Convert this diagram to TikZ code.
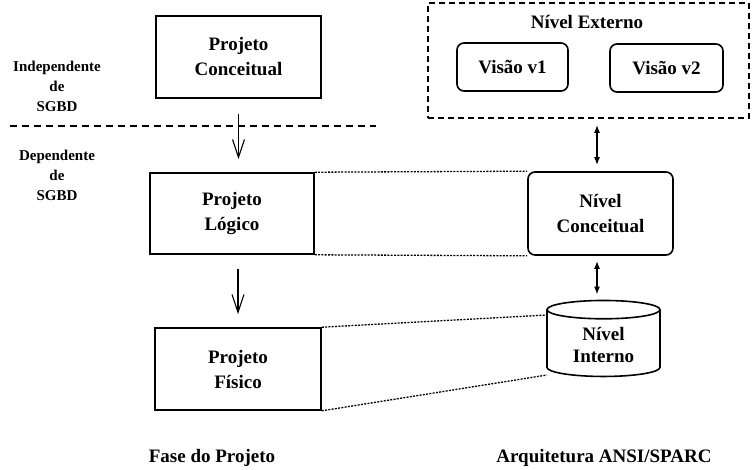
\documentclass[tikz,border=0pt]{standalone}
\usepackage{fontspec}
\setmainfont{Liberation Serif}
\usetikzlibrary{positioning,calc,shapes.geometric,arrows.meta}

\begin{document}
\begin{tikzpicture}[x=1pt,y=-1pt,
					fase/.style={
						draw, line width=1.6pt, minimum width=165pt, minimum height=82pt,
						font=\fontsize{19}{25}\selectfont\bfseries, align=center
					},
					nivel/.style={
						draw, line width=1.6pt, rounded corners=7pt,
						font=\fontsize{19}{25}\selectfont\bfseries, align=center
					},
					lado/.style={
						font=\fontsize{15}{20}\selectfont\bfseries, align=center
					},
					titulo/.style={
						font=\fontsize{19}{20}\selectfont\bfseries
					},
					desce/.style={
						-{Straight Barb[length=18pt,width=12pt]}, line width=1.1pt
					},
					duplo/.style={
						{Latex[length=8pt,width=6pt]}-{Latex[length=8pt,width=6pt]}, line width=1.5pt
					},
					ponto/.style={
						line width=1.3pt, dash pattern=on 2pt off 1.3pt
					}
					]
					\useasboundingbox (0,0) rectangle (752,469);
					
					% Fase do projeto
					\node[fase] (conc) at (238.5,57) {Projeto\\Conceitual};
					\node[fase, minimum width=164pt, minimum height=81pt] (log) at (232,213.5) {Projeto\\L\'ogico};
					\node[fase, minimum width=166pt] (fis) at (238,369) {Projeto\\F\'isico};
					
					\node[lado] (indep) at (57,86) {Independente\\de\\SGBD};
					\node[lado] (dep) at (57,175) {Dependente\\de\\SGBD};
					\draw[line width=1.6pt, dash pattern=on 7pt off 5pt] (10,126) coordinate (sepA) -- (376,126) coordinate (sepB);
					
					\draw[desce] ($(conc.south)+(0,15)$) -- ($(conc.south |- log.north)+(0,-13)$);
					\draw[desce] ($(log.south -| fis.north)+(0,14)$) -- ($(fis.north)+(0,-13)$);
					
					% Arquitetura ANSI/SPARC
					\node[draw, line width=1.6pt, dash pattern=on 6pt off 4pt, minimum width=321pt, minimum height=115pt] (ext) at (588.5,60.5) {};
					\node[titulo] (extlbl) at (587,22) {N\'ivel Externo};
					\node[nivel, minimum width=111pt, minimum height=48pt] (v1) at (512.5,67) {Vis\~ao v1};
					\node[nivel, minimum width=113pt, minimum height=48pt] (v2) at (666.5,68) {Vis\~ao v2};
					
					\node[nivel, minimum width=145pt, minimum height=83pt] (nconc) at (600.5,213.5) {N\'ivel\\Conceitual};
					\node[draw, line width=1.6pt, shape=cylinder, shape border rotate=90, aspect=0.27,
						minimum width=113pt, minimum height=76pt,
						font=\fontsize{19}{22}\selectfont\bfseries, align=center] (nint) at (603.5,345) {N\'ivel\\Interno};
					
					\draw[duplo] ($(ext.south -| 597,0)+(0,6)$) -- ($(nconc.north -| 597,0)+(0,-6)$);
					\draw[duplo] ($(nconc.south -| 597,0)+(0,5)$) -- ($(nint.top -| 597,0)+(0,-5)$);
					
					% Ligacoes pontilhadas
					\draw[ponto] (log.north east) -- (nconc.north west);
					\draw[ponto] (log.south east) -- (nconc.south west);
					\draw[ponto] (fis.north east) -- ($(nint.center)+(-56.5,-30)$);
					\draw[ponto] (fis.south east) -- ($(nint.center)+(-56.5,30)$);
					
					\node[titulo] (tfase) at (212,458) {Fase do Projeto};
					\node[titulo] (tarq) at (604,458) {Arquitetura ANSI/SPARC};
				\end{tikzpicture}
\end{document}
